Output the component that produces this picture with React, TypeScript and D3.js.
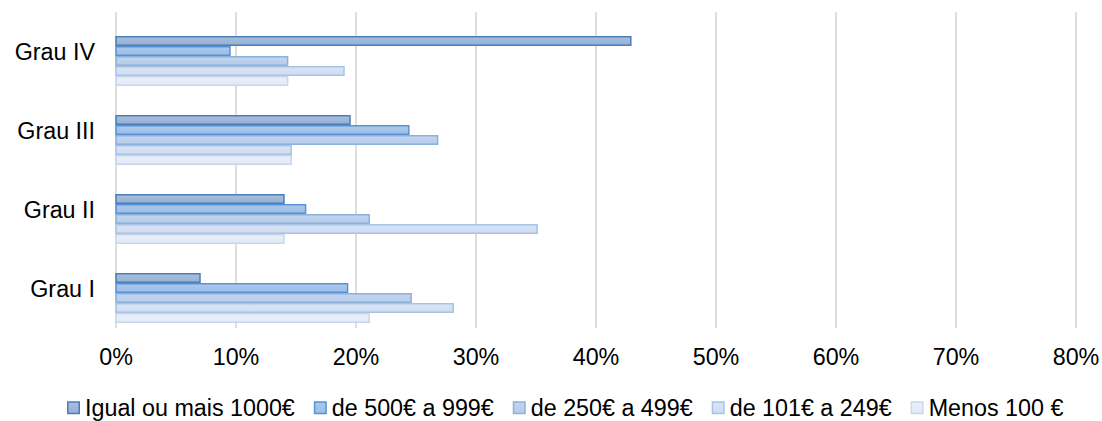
import React from "react";
import * as d3 from "d3";

const categories = ["Grau IV", "Grau III", "Grau II", "Grau I"];
const seriesNames = [
  "Igual ou mais 1000€",
  "de 500€ a 999€",
  "de 250€ a 499€",
  "de 101€ a 249€",
  "Menos 100 €",
];
// values per category (same order as categories), one array per series (%)
const igualOuMais1000 = [42.9, 19.5, 14.0, 7.0];
const de500a999 = [9.5, 24.4, 15.8, 19.3];
const de250a499 = [14.3, 26.8, 21.1, 24.6];
const de101a249 = [19.0, 14.6, 35.1, 28.1];
const menos100 = [14.3, 14.6, 14.0, 21.1];
const seriesValues = [igualOuMais1000, de500a999, de250a499, de101a249, menos100];
const xTicks = [0, 10, 20, 30, 40, 50, 60, 70, 80];

const fillsTop = ["#a9bfdd", "#aac9ee", "#c3d6ef", "#d9e5f5", "#eaf0fa"];
const fillsBot = ["#96afd2", "#9bbde6", "#b5cbe9", "#cfddf1", "#e2eaf7"];
const strokes = ["#4a7ebb", "#5a92d2", "#8db0dc", "#a9c3e5", "#c7d7ec"];

const FONT = "'Liberation Sans', Arial, sans-serif";
const FS = 23.3;

function measure(s: string): number {
  const c = document.createElement("canvas").getContext("2d");
  if (!c) return s.length * FS * 0.55;
  c.font = `${FS}px ${FONT}`;
  return c.measureText(s).width;
}

export default function App() {
  const W = 1102;
  const H = 421;
  const x = d3.scaleLinear().domain([0, 80]).range([116, 1076]);
  const y = d3.scaleBand<string>().domain(categories).range([12, 328]).padding(0);
  const inner = d3
    .scaleBand<number>()
    .domain(d3.range(seriesNames.length))
    .range([24, 74])
    .padding(0);

  // legend layout
  const markerW = 13;
  const textOff = 18;
  const itemGap = 19;
  let cx = 67;
  const legendItems = seriesNames.map((s) => {
    const w = measure(s);
    const it = { x: cx, w };
    cx += textOff + w + itemGap;
    return it;
  });

  return (
    <svg width={W} height={H} style={{ position: "absolute", left: 0, top: 0 }} fontFamily={FONT}>
      <defs>
        {seriesNames.map((_, i) => (
          <linearGradient key={i} id={`g${i}`} x1="0" y1="0" x2="0" y2="1">
            <stop offset="0" stopColor={fillsTop[i]} />
            <stop offset="1" stopColor={fillsBot[i]} />
          </linearGradient>
        ))}
      </defs>
      <rect width={W} height={H} fill="#fff" />
      {xTicks.map((t) => (
        <g key={t}>
          <line x1={x(t)} x2={x(t)} y1={12} y2={328} stroke="#d9d9d9" strokeWidth={1.7} />
          <text x={x(t)} y={365} textAnchor="middle" fontSize={FS} fill="#000">
            {t}%
          </text>
        </g>
      ))}
      {categories.map((c, ci) => (
        <g key={c}>
          <text
            x={95}
            y={(y(c) as number) + y.bandwidth() / 2}
            dy="0.35em"
            textAnchor="end"
            fontSize={FS}
            fill="#000"
          >
            {c}
          </text>
          {seriesValues.map((vals, si) => {
            const y0 = (y(c) as number) + (inner(si) as number);
            return (
              <rect
                key={si}
                x={x(0)}
                y={y0 + 0.75}
                width={x(vals[ci]) - x(0)}
                height={inner.bandwidth() - 1.5}
                fill={`url(#g${si})`}
                stroke={strokes[si]}
                strokeWidth={1.5}
              />
            );
          })}
        </g>
      ))}
      {seriesNames.map((s, i) => (
        <g key={s}>
          <rect
            x={legendItems[i].x + 0.75}
            y={402}
            width={markerW - 1.5}
            height={markerW - 1.5}
            fill={`url(#g${i})`}
            stroke={strokes[i]}
            strokeWidth={1.5}
          />
          <text x={legendItems[i].x + textOff} y={416} fontSize={FS} fill="#000">
            {s}
          </text>
        </g>
      ))}
    </svg>
  );
}
